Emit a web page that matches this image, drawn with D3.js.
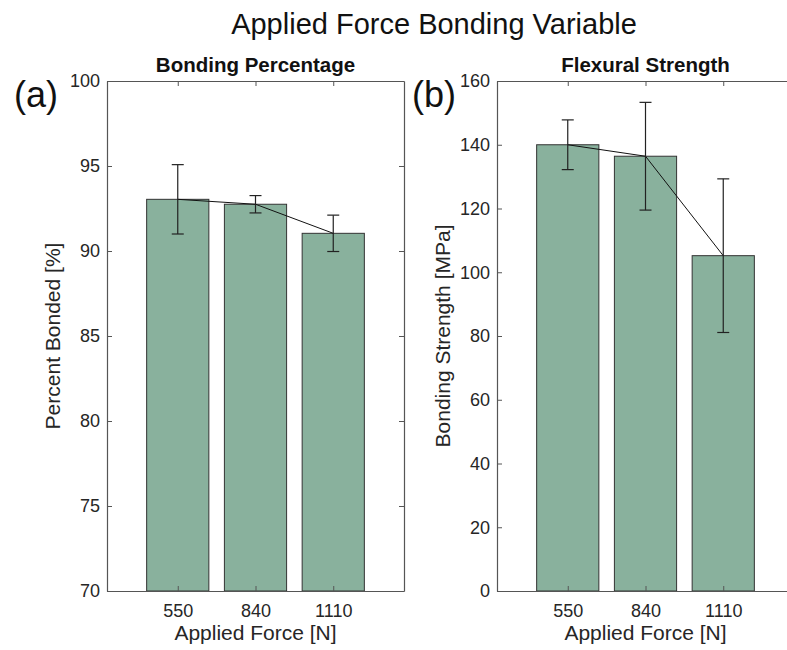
<!DOCTYPE html>
<html>
<head>
<meta charset="utf-8">
<script src="https://cdn.jsdelivr.net/npm/d3@7"></script>
<style>
  body { margin: 0; background: #fff; }
  svg { font-family: "Liberation Sans", Arial, sans-serif; display: block; }
</style>
</head>
<body>
<svg id="chart" width="787" height="650"></svg>
<script>
// categories (applied force, N)
const forces = ["550", "840", "1110"];

// panel (a): bonding percentage
const pctMean = [93.04, 92.75, 91.04];
const pctErr = [2.04, 0.51, 1.07];
const pctTicks = [70, 75, 80, 85, 90, 95, 100];

// panel (b): flexural strength
const strMean = [140.0, 136.4, 105.2];
const strErr = [7.8, 16.9, 24.1];
const strTicks = [0, 20, 40, 60, 80, 100, 120, 140, 160];

const svg = d3.select("#chart");
const barFill = "#89b19d";
const axisColor = "#555";
const textColor = "#262626";

// overall title
svg.append("text")
  .attr("x", 434).attr("y", 34)
  .attr("text-anchor", "middle")
  .style("font-size", "29px")
  .style("fill", "#111")
  .text("Applied Force Bonding Variable");

function drawPanel(opts) {
  const { left, right, top, bottom, yDomain, ticks, mean, err, title, ylabel, tag, tagX, ylabelX } = opts;

  // matlab style bar positions 1..3 with xlim padding
  const x = d3.scaleLinear().domain([0.09, 3.91]).range([left, right]);
  const y = d3.scaleLinear().domain(yDomain).range([bottom, top]);
  const data = forces.map((f, i) => ({ f, i: i + 1, m: mean[i], e: err[i] }));
  const bw = x(1.8) - x(1);

  const g = svg.append("g");

  g.selectAll("rect.bar")
    .data(data)
    .enter().append("rect")
    .attr("class", "bar")
    .attr("x", d => x(d.i) - bw / 2)
    .attr("width", bw)
    .attr("y", d => y(d.m))
    .attr("height", d => y(yDomain[0]) - y(d.m))
    .style("fill", barFill)
    .style("stroke", "#333")
    .style("stroke-width", 1);

  // line through the means
  const line = d3.line().x(d => x(d.i)).y(d => y(d.m));
  g.append("path")
    .datum(data)
    .attr("d", line)
    .style("fill", "none")
    .style("stroke", "#111")
    .style("stroke-width", 1);

  // error bars
  const cap = 6;
  const eb = g.selectAll("g.err").data(data).enter().append("g")
    .style("stroke", "#222").style("stroke-width", 1.2);
  eb.append("line")
    .attr("x1", d => x(d.i)).attr("x2", d => x(d.i))
    .attr("y1", d => y(d.m + d.e)).attr("y2", d => y(d.m - d.e));
  eb.append("line")
    .attr("x1", d => x(d.i) - cap).attr("x2", d => x(d.i) + cap)
    .attr("y1", d => y(d.m + d.e)).attr("y2", d => y(d.m + d.e));
  eb.append("line")
    .attr("x1", d => x(d.i) - cap).attr("x2", d => x(d.i) + cap)
    .attr("y1", d => y(d.m - d.e)).attr("y2", d => y(d.m - d.e));

  // axes: ticks pointing inward, mirrored on top/right
  const tickLen = 5;
  const axL = g.append("g").attr("transform", `translate(${left},0)`)
    .call(d3.axisLeft(y).tickValues(ticks).tickSizeInner(-tickLen).tickSizeOuter(0).tickPadding(7));
  const axR = g.append("g").attr("transform", `translate(${right},0)`)
    .call(d3.axisRight(y).tickValues(ticks).tickSizeInner(-tickLen).tickSizeOuter(0).tickFormat(""));
  const axB = g.append("g").attr("transform", `translate(0,${bottom})`)
    .call(d3.axisBottom(x).tickValues([1, 2, 3]).tickFormat((d, i) => forces[i])
      .tickSizeInner(-tickLen).tickSizeOuter(0).tickPadding(13));
  const axT = g.append("g").attr("transform", `translate(0,${top})`)
    .call(d3.axisTop(x).tickValues([1, 2, 3]).tickFormat("")
      .tickSizeInner(-tickLen).tickSizeOuter(0));

  [axL, axR, axB, axT].forEach(a => {
    a.select(".domain").style("stroke", axisColor).style("stroke-width", 1.2);
    a.selectAll(".tick line").style("stroke", axisColor);
    a.selectAll(".tick text").style("font-size", "18px").style("fill", textColor)
      .style("font-family", "'Liberation Sans', Arial, sans-serif");
  });

  // subplot title
  g.append("text")
    .attr("x", (left + right) / 2).attr("y", top - 9)
    .attr("text-anchor", "middle")
    .style("font-size", "20.5px").style("font-weight", "bold").style("fill", "#111")
    .text(title);

  // x label
  g.append("text")
    .attr("x", (left + right) / 2).attr("y", bottom + 49)
    .attr("text-anchor", "middle")
    .style("font-size", "21px").style("fill", textColor)
    .text("Applied Force [N]");

  // y label
  g.append("text")
    .attr("transform", `translate(${ylabelX},${(top + bottom) / 2}) rotate(-90)`)
    .attr("text-anchor", "middle")
    .style("font-size", "21px").style("fill", textColor)
    .text(ylabel);

  // panel tag
  g.append("text")
    .attr("x", tagX).attr("y", 107)
    .style("font-size", "36px").style("fill", "#111")
    .text(tag);
}

drawPanel({
  left: 107, right: 404, top: 81, bottom: 591,
  yDomain: [70, 100], ticks: pctTicks,
  mean: pctMean, err: pctErr,
  title: "Bonding Percentage", ylabel: "Percent Bonded [%]",
  tag: "(a)", tagX: 14, ylabelX: 60
});

drawPanel({
  left: 497, right: 794, top: 81, bottom: 591,
  yDomain: [0, 160], ticks: strTicks,
  mean: strMean, err: strErr,
  title: "Flexural Strength", ylabel: "Bonding Strength [MPa]",
  tag: "(b)", tagX: 412, ylabelX: 450
});
</script>
</body>
</html>
